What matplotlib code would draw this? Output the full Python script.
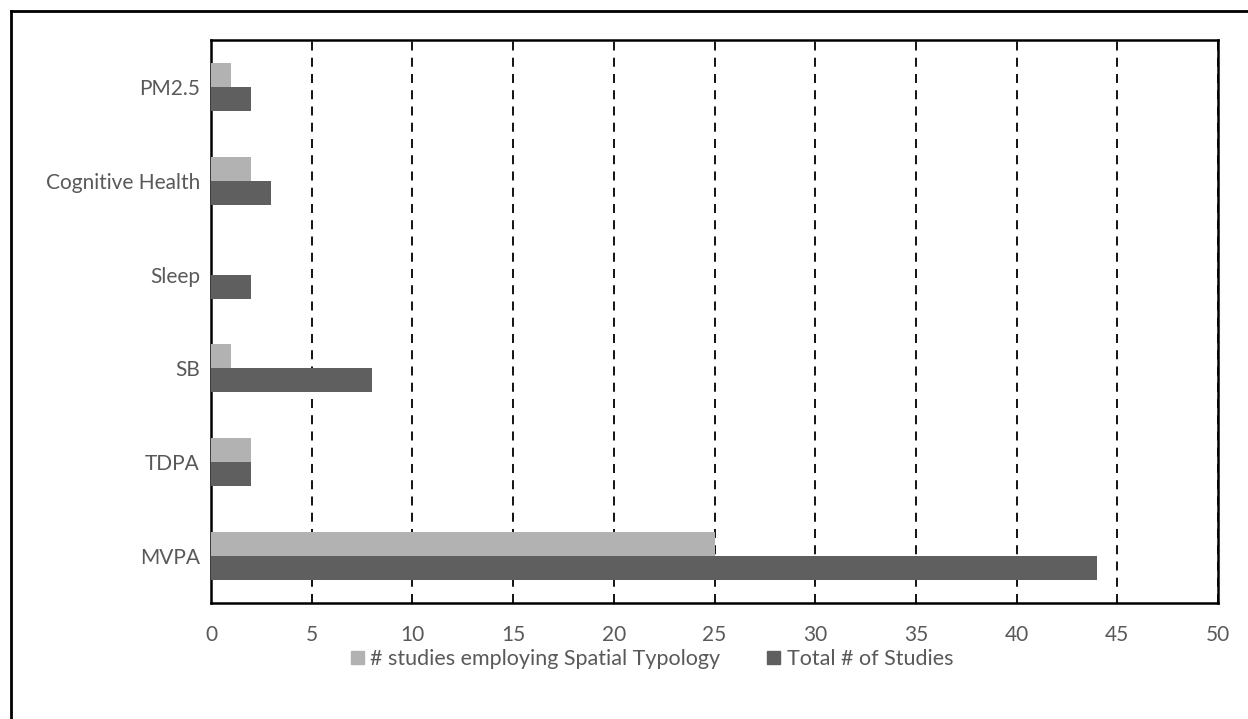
import matplotlib.pyplot as plt
from matplotlib.lines import Line2D
from matplotlib.patches import Patch
import numpy as np

categories = ["MVPA", "TDPA", "SB", "Sleep", "Cognitive Health", "PM2.5"]
spatial_typology = [25, 2, 1, 0, 2, 1]
total_studies = [44, 2, 8, 2, 3, 2]
xticks = list(range(0, 51, 5))

light = "#b2b2b2"
dark = "#5f5f5f"
txt = "#595959"

plt.rcParams['font.family'] = ['Lato', 'DejaVu Sans']

fig = plt.figure(figsize=(12.48, 7.19), dpi=100)
ax = fig.add_axes([211 / 1248, 1 - 603 / 719, (1218 - 211) / 1248, (603 - 40) / 719])

y = np.arange(len(categories))
h = 0.255
ax.barh(y + h / 2, spatial_typology, height=h, color=light, zorder=3)
ax.barh(y - h / 2, total_studies, height=h, color=dark, zorder=3)

ax.set_xlim(0, 50)
ax.set_ylim(-0.5, len(categories) - 0.5)
ax.set_xticks(xticks)
ax.set_yticks(y)
ax.set_yticklabels(categories)
ax.tick_params(axis='both', length=0, labelsize=15, colors=txt)
ax.tick_params(axis='y', pad=8)
ax.tick_params(axis='x', pad=16)
ax.xaxis.grid(True, color='black', linestyle=(0, (5, 4)), linewidth=1.3, zorder=0)
for s in ax.spines.values():
    s.set_color('black')
    s.set_linewidth(1.8)

handles = [Patch(color=light, label="# studies employing Spatial Typology"),
           Patch(color=dark, label="Total # of Studies")]
leg = fig.legend(handles=handles, loc='center', bbox_to_anchor=(652 / 1248, 1 - 659 / 719),
                 ncol=2, frameon=False, fontsize=15.5, handlelength=0.6, handleheight=0.6,
                 columnspacing=2.2, handletextpad=0.3)
for t in leg.get_texts():
    t.set_color(txt)

# outer frame (left and top edges visible)
fig.add_artist(Line2D([11 / 1248, 11 / 1248], [0, 1 - 11 / 719], transform=fig.transFigure,
                      color='black', linewidth=2))
fig.add_artist(Line2D([11 / 1248, 1], [1 - 11 / 719, 1 - 11 / 719], transform=fig.transFigure,
                      color='black', linewidth=2))

fig.savefig("out.png", dpi=100, facecolor='white')
